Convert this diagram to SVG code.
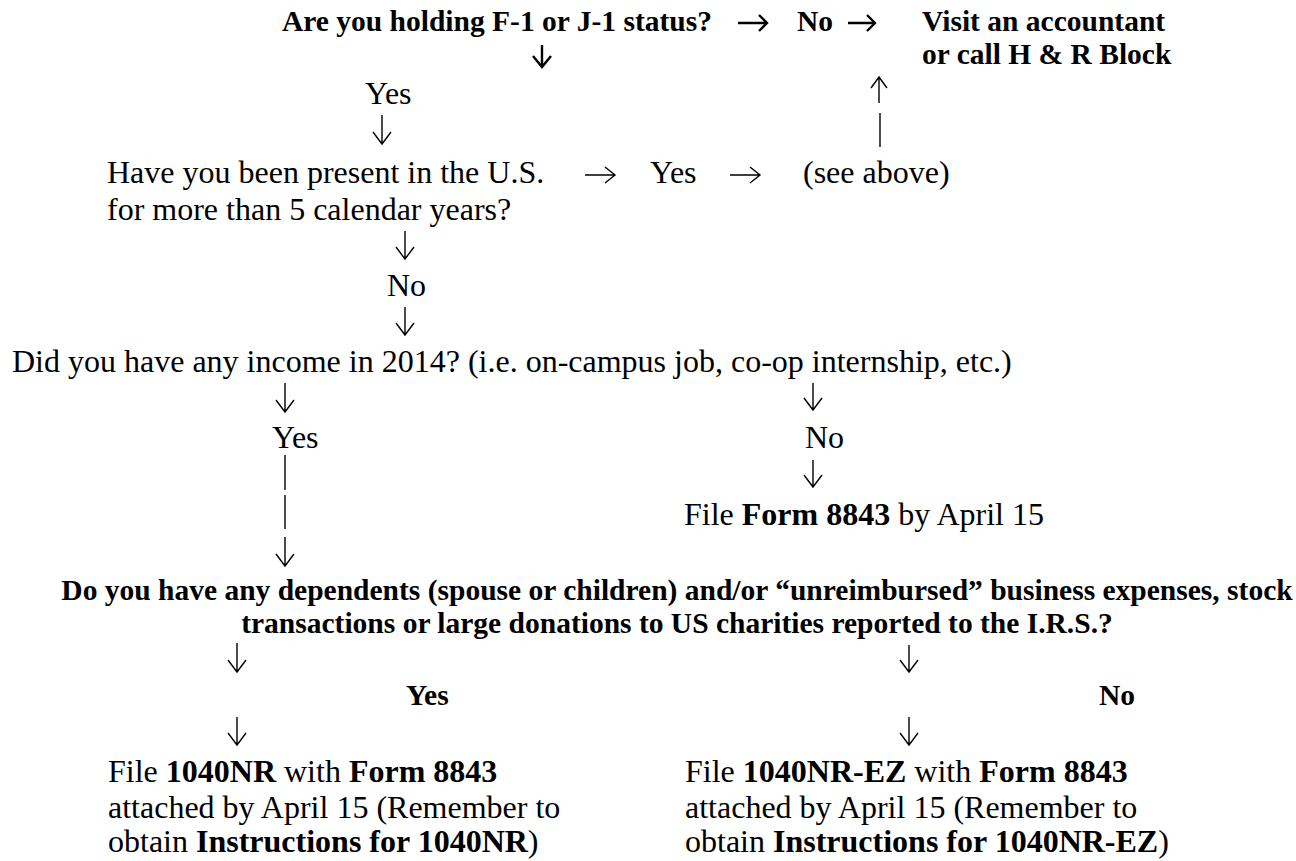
<svg xmlns="http://www.w3.org/2000/svg" width="1296" height="861" viewBox="0 0 1296 861">
<style>
text{font-family:"Liberation Serif","Times New Roman",serif;fill:#000}
.r{font-size:32px}
.q{font-size:29.5px;font-weight:bold}
.b{font-weight:bold}
.a{fill:none;stroke:#000;stroke-width:1.4}
.ab{fill:none;stroke:#000;stroke-width:2.4}
</style>
<rect width="1296" height="861" fill="#fff"/>

<g id="connectors">
  <path class="ab" d="M738 23H767M759 15L767 23L759 31"/>
  <path class="ab" d="M848 23H875M867 15L875 23L867 31"/>
  <path class="ab" d="M542 45V67M533 56L542 67L551 56"/>
  <path class="a" d="M879 103V77M871 88L879 77L887 88"/>
  <path class="a" d="M880 113V147"/>
  <path class="a" d="M382 115V144M373 132L382 144L391 132"/>
  <path class="a" d="M585 175H615M605 167L615 175L605 183"/>
  <path class="a" d="M730 175H760M750 167L760 175L750 183"/>
  <path class="a" d="M405 231V259M396 247L405 259L414 247"/>
  <path class="a" d="M405 307V335M396 323L405 335L414 323"/>
  <path class="a" d="M285 383V412M276 400L285 412L294 400"/>
  <path class="a" d="M285 455V490M285 495V529"/>
  <path class="a" d="M285 537V566M276 554L285 566L294 554"/>
  <path class="a" d="M813 383V410M804 398L813 410L822 398"/>
  <path class="a" d="M813 460V487M804 475L813 487L822 475"/>
  <path class="a" d="M237 643V672M228 660L237 672L246 660"/>
  <path class="a" d="M909 645V672M900 660L909 672L918 660"/>
  <path class="a" d="M237 717V745M228 733L237 745L246 733"/>
  <path class="a" d="M909 717V745M900 733L909 745L918 733"/>
</g>

<g id="q-status"><text class="q" x="282" y="31">Are you holding F-1 or J-1 status?</text></g>
<g id="label-no-1"><text class="q" x="797" y="31">No</text></g>
<g id="visit-accountant">
  <text class="q" x="922" y="31">Visit an accountant</text>
  <text class="q" x="922" y="64">or call H &amp; R Block</text>
</g>
<g id="label-yes-1"><text class="r" x="365" y="104">Yes</text></g>
<g id="q-present">
  <text class="r" x="107" y="183">Have you been present in the U.S.</text>
  <text class="r" x="107" y="220">for more than 5 calendar years?</text>
</g>
<g id="label-yes-2"><text class="r" x="650" y="183">Yes</text></g>
<g id="see-above"><text class="r" x="803" y="183">(see above)</text></g>
<g id="label-no-2"><text class="r" x="387" y="296">No</text></g>
<g id="q-income"><text class="r" x="12" y="372">Did you have any income in 2014? (i.e. on-campus job, co-op internship, etc.)</text></g>
<g id="label-yes-3"><text class="r" x="272" y="448">Yes</text></g>
<g id="label-no-3"><text class="r" x="805" y="448">No</text></g>
<g id="file-8843"><text class="r" x="684" y="525">File <tspan class="b">Form 8843</tspan> by April 15</text></g>
<g id="q-dependents">
  <text class="q" x="677" y="600" text-anchor="middle">Do you have any dependents (spouse or children) and/or “unreimbursed” business expenses, stock</text>
  <text class="q" x="677" y="633" text-anchor="middle">transactions or large donations to US charities reported to the I.R.S.?</text>
</g>
<g id="label-yes-4"><text class="q" x="406" y="705">Yes</text></g>
<g id="label-no-4"><text class="q" x="1099" y="705">No</text></g>
<g id="file-1040nr">
  <text class="r" x="108" y="782">File <tspan class="b">1040NR</tspan> with <tspan class="b">Form 8843</tspan></text>
  <text class="r" x="108" y="818">attached by April 15 (Remember to</text>
  <text class="r" x="108" y="852">obtain <tspan class="b">Instructions for 1040NR</tspan>)</text>
</g>
<g id="file-1040nr-ez">
  <text class="r" x="685" y="782">File <tspan class="b">1040NR-EZ</tspan> with <tspan class="b">Form 8843</tspan></text>
  <text class="r" x="685" y="818">attached by April 15 (Remember to</text>
  <text class="r" x="685" y="852">obtain <tspan class="b">Instructions for 1040NR-EZ</tspan>)</text>
</g>
</svg>
